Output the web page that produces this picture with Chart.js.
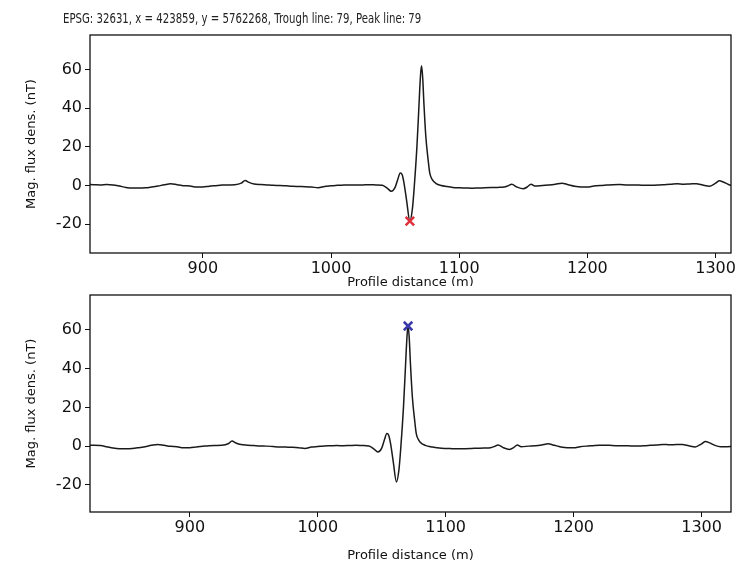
<!DOCTYPE html>
<html>
<head>
<meta charset="utf-8">
<script src="https://cdn.jsdelivr.net/npm/chart.js@4.4.1/dist/chart.umd.min.js"></script>
<style>
  body { margin: 0; background: #fff; }
  #wrap { position: relative; width: 741px; height: 569px; overflow: hidden; }
  #topBox { position: absolute; left: 0; top: 0; width: 741px; height: 286px; overflow: hidden; }
  canvas { position: absolute; left: 0; }
  #top { top: 0; }
  #bottom { top: 270px; }
  #title { position: absolute; left: 63px; top: 10px; white-space: nowrap;
           font: 14.5px "DejaVu Sans", sans-serif; color: #222; transform-origin: 0 0; }
</style>
</head>
<body>
<div id="wrap">
  <div id="topBox"><canvas id="top" width="741" height="290"></canvas></div>
  <canvas id="bottom" width="741" height="299"></canvas>
  <div id="title"><span id="titleText">EPSG: 32631, x = 423859, y = 5762268, Trough line: 79, Peak line: 79</span></div>
</div>
<script>
// profile distance (m) and magnetic flux density (nT)
const distance = [810, 815, 820, 825, 830, 835, 840, 845, 850, 855, 860, 865, 870, 875, 880, 885, 890, 895, 900, 905,
  910, 915, 920, 925, 930, 933, 936, 940, 945, 950, 955, 960, 965, 970, 975, 980, 985, 990, 995, 1000,
  1005, 1010, 1015, 1020, 1025, 1030, 1035, 1040, 1044, 1047, 1050, 1052, 1054, 1055.5, 1057, 1059, 1061.5, 1063.5, 1065, 1067,
  1068.5, 1069.8, 1070.6, 1071.5, 1072.5, 1074, 1075.8, 1077, 1079, 1082, 1086, 1090, 1095, 1100, 1105, 1110, 1115, 1120, 1125, 1130,
  1135, 1138, 1141, 1145, 1150, 1153, 1156, 1159, 1165, 1170, 1175, 1180, 1185, 1190, 1195, 1200, 1205, 1210, 1215, 1220,
  1225, 1230, 1235, 1240, 1245, 1250, 1255, 1260, 1265, 1270, 1275, 1280, 1285, 1290, 1295, 1300, 1303, 1306, 1310, 1315,
  1320, 1325];
const fluxDens = [0.5, 0.4, 0.3, 0.5, 0.3, -0.3, -1.0, -1.3, -1.3, -1.2, -0.8, -0.3, 0.4, 0.9, 0.4, -0.1, -0.3, -0.8, -0.8, -0.4,
  -0.1, 0.2, 0.3, 0.4, 1.2, 2.6, 1.6, 0.8, 0.5, 0.3, 0.1, 0, -0.2, -0.4, -0.5, -0.6, -0.8, -1.2, -0.5, -0.2,
  0.1, 0.2, 0.3, 0.2, 0.3, 0.4, 0.3, 0.1, -1.5, -3, -1, 3, 6.5, 5.5, 1, -8, -18.5, -12, 0, 20,
  40, 57, 62, 56, 42, 25, 13, 6.5, 3, 1, 0, -0.5, -1, -1.2, -1.3, -1.4, -1.3, -1.2, -1.1, -1.0,
  -0.8, -0.2, 0.6, -0.8, -1.7, -0.8, 0.6, -0.3, 0, 0.2, 0.6, 1.2, 0.4, -0.4, -0.8, -0.8, -0.3, 0, 0.2, 0.4,
  0.5, 0.3, 0.2, 0.2, 0.1, 0.1, 0.2, 0.4, 0.6, 0.9, 0.7, 0.8, 0.9, 0.2, -0.4, 1.2, 2.4, 1.8, 0.5, -0.3,
  -0.3, -0.2];
const trough = [{x: 1061.5, y: -18.5}];
const peak = [{x: 1070.6, y: 62}];
const yTicks = [-20, 0, 20, 40, 60];
const xTicks = [900, 1000, 1100, 1200, 1300];

const profile = distance.map((d, i) => ({x: d, y: fluxDens[i]}));

// matplotlib-like frame round the plot area
const frame = {
  id: 'frame',
  afterDraw(chart) {
    const a = chart.chartArea, ctx = chart.ctx;
    ctx.save();
    ctx.strokeStyle = '#111';
    ctx.lineWidth = 1.3;
    ctx.strokeRect(a.left, a.top, a.right - a.left, a.bottom - a.top);
    ctx.restore();
  }
};

function makeChart(id, xMin, xMax, yMin, marker, markerColor, xAxisH, pad, titlePad) {
  const tickFont = {family: 'DejaVu Sans', size: 16};
  const titleFont = {family: 'DejaVu Sans', size: 13};
  return new Chart(document.getElementById(id).getContext('2d'), {
    type: 'line',
    data: {
      datasets: [
        {data: profile, borderColor: '#1a1a1a', borderWidth: 1.5, pointRadius: 0,
         cubicInterpolationMode: 'monotone', order: 2},
        {data: marker, showLine: false, pointStyle: 'crossRot', pointRadius: 6,
         borderColor: markerColor, borderWidth: 2.5, order: 1}
      ]
    },
    options: {
      responsive: false,
      animation: false,
      layout: {padding: pad},
      plugins: {legend: {display: false}, tooltip: {enabled: false}},
      scales: {
        x: {
          type: 'linear', min: xMin, max: xMax,
          afterFit: s => { s.height = xAxisH; },
          afterBuildTicks: s => { s.ticks = xTicks.map(v => ({value: v})); },
          grid: {drawOnChartArea: false, drawTicks: true, tickLength: 5, color: '#111', lineWidth: 1},
          border: {display: false},
          ticks: {font: tickFont, color: '#111', padding: 1, maxRotation: 0, callback: v => String(v)},
          title: {display: true, text: 'Profile distance (m)', font: titleFont, color: '#111',
                  padding: {top: 0, bottom: titlePad}}
        },
        y: {
          min: yMin, max: 78,
          afterFit: s => { s.width = 90; },
          afterBuildTicks: s => { s.ticks = yTicks.map(v => ({value: v})); },
          grid: {drawOnChartArea: false, drawTicks: true, tickLength: 5, color: '#111', lineWidth: 1},
          border: {display: false},
          ticks: {font: tickFont, color: '#111', padding: 3, callback: v => String(v)},
          title: {display: true, text: 'Mag. flux dens. (nT)', font: titleFont, color: '#111',
                  padding: {top: 24, bottom: 0}}
        }
      }
    },
    plugins: [frame]
  });
}

makeChart('top', 812, 1312, -35, trough, '#e0303c', 37, {top: 35, right: 10, bottom: 0, left: 0}, 0);
makeChart('bottom', 822, 1323, -34, peak, '#3a3aa8', 57, {top: 25, right: 10, bottom: 0, left: 0}, 6);

// squeeze the narrow title to its width in the figure
const span = document.getElementById('titleText');
document.getElementById('title').style.transform = 'scaleX(' + (358 / span.offsetWidth) + ')';
</script>
</body>
</html>
